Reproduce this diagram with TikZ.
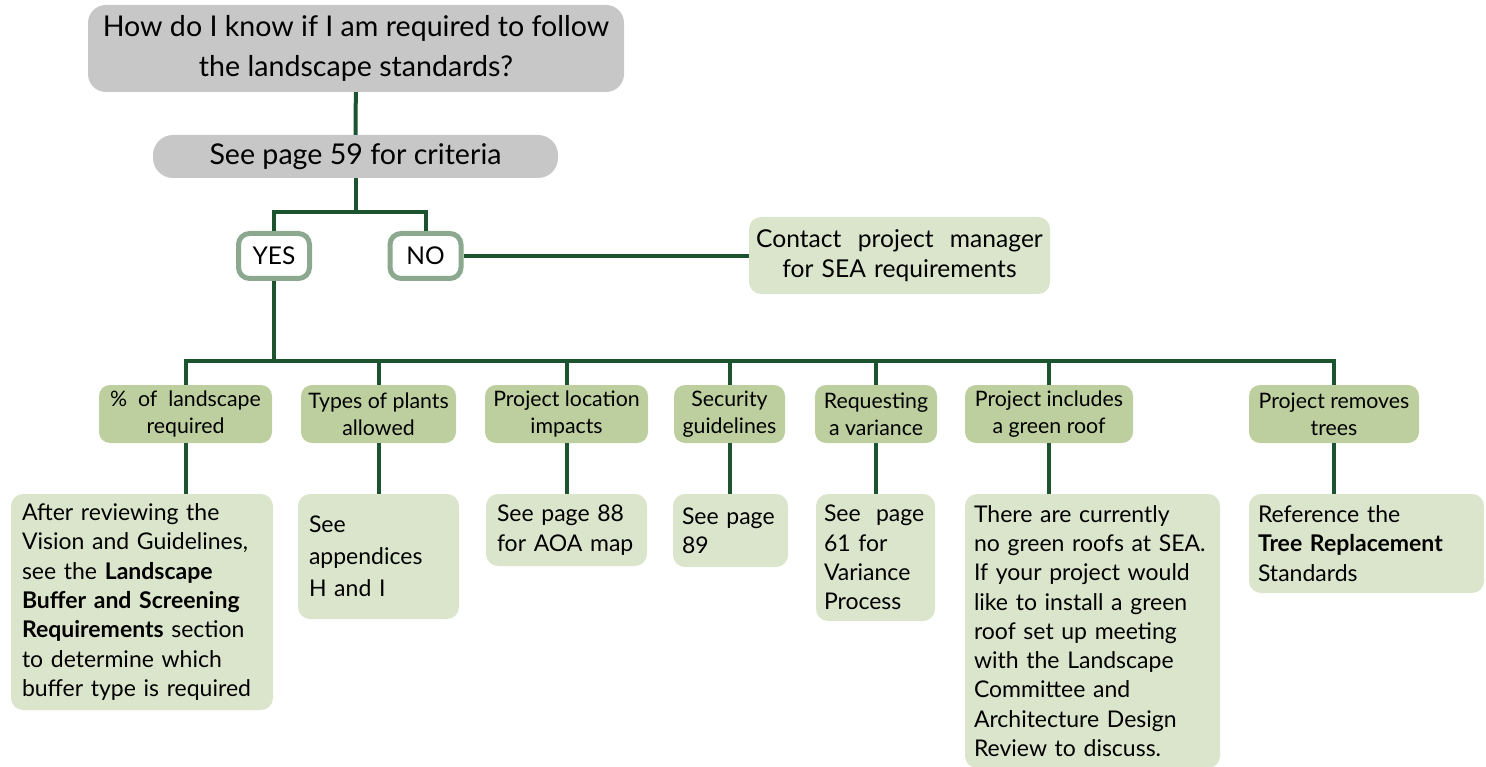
\documentclass[tikz,border=0pt]{standalone}
\usepackage{fontspec}
\setmainfont{Lato}
\usepackage{tikz}
\usetikzlibrary{positioning}
\definecolor{lineColor}{rgb}{0.11,0.33,0.19}
\definecolor{greyColor}{rgb}{0.78,0.78,0.78}
\definecolor{catColor}{rgb}{0.74,0.81,0.62}
\definecolor{detailColor}{rgb}{0.86,0.90,0.80}
\definecolor{answerColor}{rgb}{0.55,0.66,0.56}

\begin{document}
\begin{tikzpicture}[x=1pt,y=-1pt]

          \tikzstyle{question} = [fill=greyColor,rounded corners=18pt,align=center];
          \tikzstyle{answer} = [draw=answerColor,line width=5pt,fill=white,rounded corners=11pt,minimum width=71pt,minimum height=45pt,font=\fontsize{24.5}{28}\selectfont];
          \tikzstyle{category} = [fill=catColor,rounded corners=11pt,align=center,minimum height=58pt,inner sep=1pt,font=\fontsize{21.3}{27}\selectfont];
          \tikzstyle{detail} = [fill=detailColor,rounded corners=12pt,align=left,inner xsep=9pt,font=\fontsize{23}{29.3}\selectfont];
          \tikzstyle{link} = [lineColor,line width=4pt];

          \useasboundingbox (0,0) rectangle (1486,767);

          \node[question,minimum width=536pt,minimum height=87pt,font=\fontsize{28.6}{40}\selectfont] (q) at (356,48.5) {How do I know if I am required to follow\\the landscape standards?};
          \node[question,rounded corners=20pt,minimum width=405pt,minimum height=43pt,font=\fontsize{28.6}{32}\selectfont] (crit) at (355.5,156.5) {See page 59 for criteria};

          \node[answer] (yes) at (274,256) {YES};
          \node[answer] (no) at (425.5,256) {NO};
          \node[detail,align=center,inner xsep=0pt,text width=301pt,minimum height=77pt,font=\fontsize{24.6}{30}\selectfont] (contact) at (899.5,255.5) {Contact\ \ project\ \ manager\\for SEA requirements};

          \node[category,minimum width=173pt] (landscape) at (185.5,414) {\%\ \ of\ \ landscape\\required};
          \node[category,minimum width=155pt] (plants) at (378.5,414) {Types of plants\\allowed};
          \node[category,minimum width=163pt] (location) at (566.5,414) {Project location\\impacts};
          \node[category,minimum width=111pt] (security) at (729.5,414) {Security\\guidelines};
          \node[category,minimum width=122pt] (variance) at (876,414) {Requesting\\a variance};
          \node[category,minimum width=168pt] (roof) at (1049,414) {Project includes\\a green roof};
          \node[category,minimum width=170pt] (trees) at (1334,414) {Project removes\\trees};

          \node[detail,inner xsep=11pt,text width=240pt,minimum height=216pt] (landscapeInfo) at (142,602) {After reviewing the\\Vision and Guidelines,\\see the \textbf{Landscape}\\\textbf{Buffer and Screening}\\\textbf{Requirements} section\\to determine which\\buffer type is required};
          \node[detail,inner xsep=11pt,text width=139pt,minimum height=125pt,font=\fontsize{23}{32}\selectfont] (plantsInfo) at (378.5,556.5) {See\\appendices\\H and I};
          \node[detail,inner xsep=11pt,text width=139pt,minimum height=72pt] (locationInfo) at (566.5,530) {See page 88\\for AOA map};
          \node[detail,text width=97pt,minimum height=73pt] (securityInfo) at (730.5,530.5) {See page\\89};
          \node[detail,inner xsep=8pt,text width=103pt,minimum height=127pt] (varianceInfo) at (875.5,557.5) {See\ \ page\\61 for\\Variance\\Process};
          \node[detail,text width=237pt,minimum height=274pt] (roofInfo) at (1092.5,631) {There are currently\\no green roofs at SEA.\\If your project would\\like to install a green\\roof set up meeting\\with the Landscape\\Committee and\\Architecture Design\\Review to discuss.};
          \node[detail,text width=217pt,minimum height=99pt] (treesInfo) at (1366.5,543.5) {Reference the\\\textbf{Tree Replacement}\\Standards};

          \coordinate (split) at (355.5,212);
          \coordinate (bus) at (274,361);

          \draw[link] (q) -- (crit);
          \draw[link] (crit) -- (split);
          \draw[link] (yes.north) |- (split) -| (no.north);
          \draw[link] (no.east) -- (no.east -| contact.west);
          \draw[link] (yes.south) -- (bus);
          \draw[link] (landscape.north) |- (trees.north |- bus) -- (trees.north);
          \draw[link] (plants.north) -- (plants.north |- bus);
          \draw[link] (location.north) -- (location.north |- bus);
          \draw[link] (security.north) -- (security.north |- bus);
          \draw[link] (variance.north) -- (variance.north |- bus);
          \draw[link] (roof.north) -- (roof.north |- bus);

          \draw[link] (landscape.south) -- (landscape.south |- landscapeInfo.north);
          \draw[link] (plants.south) -- (plants.south |- plantsInfo.north);
          \draw[link] (location.south) -- (location.south |- locationInfo.north);
          \draw[link] (security.south) -- (security.south |- securityInfo.north);
          \draw[link] (variance.south) -- (variance.south |- varianceInfo.north);
          \draw[link] (roof.south) -- (roof.south |- roofInfo.north);
          \draw[link] (trees.south) -- (trees.south |- treesInfo.north);
        \end{tikzpicture}
\end{document}
